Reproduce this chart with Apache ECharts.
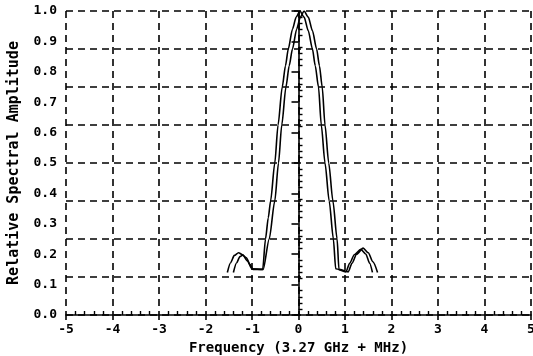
<!DOCTYPE html>
<html><head><meta charset="utf-8">
<script src="https://cdn.jsdelivr.net/npm/echarts@6/dist/echarts.min.js"></script>
<style>html,body{margin:0;padding:0;background:#fff}#c{width:533px;height:356px}</style>
</head><body><div id="c"></div>
<script>
const xTitle = 'Frequency (3.27 GHz + MHz)';
const yTitle = 'Relative Spectral Amplitude';
const curveA = [[-1.53,0.14],[-1.46,0.172],[-1.38,0.196],[-1.29,0.205],[-1.20,0.198],[-1.10,0.178],[-1.00,0.152],
  [-0.77,0.150],[-0.71,0.25],[-0.65,0.32],[-0.60,0.375],[-0.51,0.50],[-0.44,0.625],[-0.35,0.75],[-0.28,0.82],[-0.22,0.875],
  [-0.13,0.94],[-0.05,0.98],[0.03,1.0],[0.12,0.98],[0.21,0.935],[0.30,0.875],[0.36,0.82],[0.43,0.75],[0.49,0.625],
  [0.57,0.50],[0.66,0.375],[0.75,0.25],[0.80,0.152],[1.02,0.142],[1.10,0.17],[1.20,0.198],[1.34,0.216],[1.45,0.20],
  [1.53,0.17],[1.59,0.14]];
const curveB = [[-1.40,0.14],[-1.33,0.172],[-1.26,0.192],[-1.20,0.197],[-1.12,0.188],[-1.05,0.168],[-0.98,0.150],
  [-0.76,0.150],[-0.63,0.25],[-0.51,0.375],[-0.43,0.50],[-0.36,0.625],[-0.27,0.75],[-0.20,0.82],[-0.13,0.875],
  [-0.04,0.94],[0.04,0.98],[0.12,1.0],[0.21,0.98],[0.30,0.935],[0.39,0.875],[0.45,0.82],[0.51,0.75],[0.57,0.625],
  [0.65,0.50],[0.74,0.375],[0.83,0.25],[0.87,0.150],[1.07,0.142],[1.15,0.17],[1.25,0.20],[1.39,0.22],[1.50,0.205],
  [1.60,0.175],[1.70,0.14]];

const font = 'DejaVu Sans Mono';
const dash = {show:true, lineStyle:{color:'#000', width:1.6, type:[7,5]}};
const chart = echarts.init(document.getElementById('c'), null, {renderer:'canvas'});
chart.setOption({
  animation:false,
  backgroundColor:'#fff',
  grid:{left:66, right:2, top:11, bottom:41, outerBoundsMode:'none', containLabel:false},
  xAxis:{type:'value', min:-5, max:5, interval:1,
    name:xTitle, nameLocation:'middle', nameGap:20,
    nameTextStyle:{fontFamily:font, fontWeight:'bold', fontSize:14, color:'#000'},
    axisLine:{show:true, onZero:false, lineStyle:{color:'#000', width:1.6}},
    axisTick:{show:true, inside:false, length:5, lineStyle:{color:'#000', width:1.6}},
    minorTick:{show:true, splitNumber:5, length:-4, lineStyle:{color:'#000', width:1.4}},
    axisLabel:{fontFamily:font, fontWeight:'bold', fontSize:13, color:'#000', margin:8, hideOverlap:false},
    splitLine:dash},
  yAxis:[{type:'value', min:0, max:1, interval:0.1,
    name:yTitle, nameLocation:'middle', nameGap:44, nameRotate:90,
    nameTextStyle:{fontFamily:font, fontWeight:'bold', fontSize:15, color:'#000'},
    axisLine:{show:true, lineStyle:{color:'#000', width:1.6}},
    axisTick:{show:true, inside:false, length:7, lineStyle:{color:'#000', width:1.6}},
    minorTick:{show:true, splitNumber:5, length:-4, lineStyle:{color:'#000', width:1.4}},
    axisLabel:{fontFamily:font, fontWeight:'bold', fontSize:13, color:'#000', margin:9,
      formatter:v=>v.toFixed(1)},
    splitLine:{show:false}},
   {type:'value', min:0, max:1, interval:0.125, position:'left',
    axisLine:{show:false}, axisTick:{show:false}, axisLabel:{show:false},
    splitLine:dash}],
  series:[
    {type:'line', data:curveA, yAxisIndex:0, showSymbol:false, smooth:0.25, smoothMonotone:'x',
     lineStyle:{color:'#000', width:1.6}},
    {type:'line', data:curveB, yAxisIndex:0, showSymbol:false, smooth:0.25, smoothMonotone:'x',
     lineStyle:{color:'#000', width:1.6}}
  ]
});
</script></body></html>
